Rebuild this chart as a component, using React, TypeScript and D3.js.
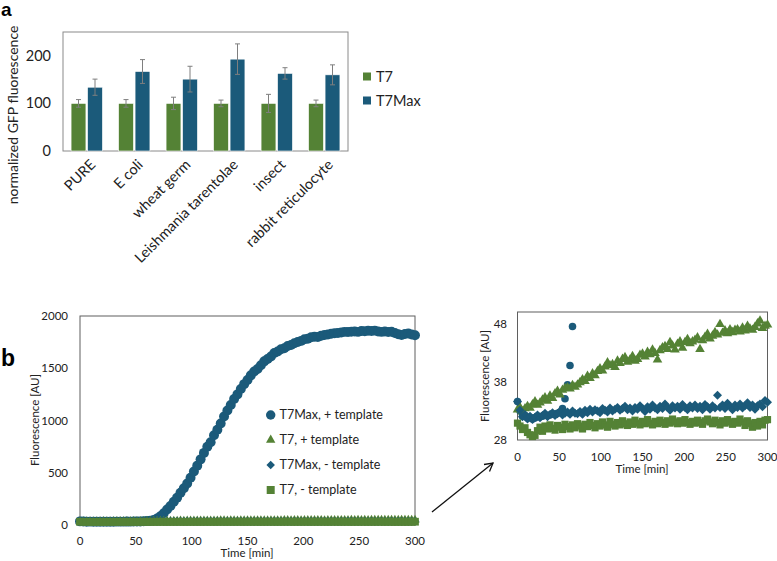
import React from "react";
import * as d3 from "d3";

// ---- panel a : normalized GFP fluorescence per lysate ----
const categories = ["PURE", "E coli", "wheat germ", "Leishmania tarentolae", "insect", "rabbit reticulocyte"];
const barSeries = ["T7", "T7Max"];
const t7Values = [100, 100, 100, 100, 100, 100];
const t7Errors = [8, 8, 13, 7, 19, 7];
const t7maxValues = [134, 167, 151, 193, 163, 160];
const t7maxErrors = [17, 25, 27, 32, 12, 21];
const barTicks = [0, 100, 200];

// ---- panel b : fluorescence over time ----
const times = [
  0, 3, 6, 9, 12, 15, 18, 21, 24, 27, 30, 33, 36, 39, 42, 45, 48, 51, 54, 57,
  60, 63, 66, 69, 72, 75, 78, 81, 84, 87, 90, 93, 96, 99, 102, 105, 108, 111, 114, 117,
  120, 123, 126, 129, 132, 135, 138, 141, 144, 147, 150, 153, 156, 159, 162, 165, 168, 171, 174, 177,
  180, 183, 186, 189, 192, 195, 198, 201, 204, 207, 210, 213, 216, 219, 222, 225, 228, 231, 234, 237,
  240, 243, 246, 249, 252, 255, 258, 261, 264, 267, 270, 273, 276, 279, 282, 285, 288, 291, 294, 297,
  300,
];
const t7maxPlus = [
  34.6, 33.0, 32.1, 32.2, 31.8, 31.9, 31.6, 31.8, 32.1, 32.0,
  32.1, 32.3, 32.2, 32.3, 32.5, 32.4, 32.6, 32.8, 33.4, 35.1,
  37.5, 40.8, 47.5, 62, 84, 112, 148, 182, 223, 262,
  308, 352, 398, 452, 512, 568, 628, 690, 748, 792,
  858, 912, 972, 1038, 1095, 1148, 1205, 1250, 1302, 1348,
  1388, 1432, 1468, 1492, 1528, 1566, 1588, 1612, 1645, 1660,
  1682, 1692, 1712, 1722, 1740, 1752, 1762, 1778, 1782, 1796,
  1802, 1800, 1812, 1818, 1822, 1830, 1834, 1838, 1842, 1848,
  1846, 1850, 1852, 1848, 1856, 1855, 1858, 1856, 1860, 1852,
  1848, 1852, 1846, 1850, 1838, 1826, 1818, 1828, 1832, 1822,
  1815,
];
const t7Plus = [
  33.2, 33.6, 32.9, 33.4, 33.8, 33.5, 34.1, 34.6, 34.0, 34.4,
  34.9, 35.3, 34.7, 35.6, 35.2, 36.0, 36.4, 35.8, 36.6, 36.9,
  37.0, 36.8, 37.4, 37.1, 37.5, 37.9, 38.4, 38.1, 39.0, 38.6,
  39.4, 39.1, 39.8, 40.3, 39.9, 40.6, 41.3, 40.8, 41.0, 40.5,
  41.6, 41.2, 41.9, 42.2, 41.4, 41.8, 42.4, 41.6, 41.9, 42.6,
  42.8, 42.3, 43.1, 42.7, 43.5, 42.9, 41.8, 43.4, 43.9, 44.1,
  43.6, 44.8, 44.2, 43.5, 44.5, 44.9, 43.8, 44.8, 45.3, 44.6,
  44.9, 45.2, 45.6, 43.6, 45.1, 45.7, 46.2, 45.4, 45.9, 46.5,
  46.1, 47.9, 46.4, 46.8, 46.3, 47.0, 46.5, 46.9, 47.0, 46.6,
  47.3, 46.8, 47.6, 47.1, 46.9, 47.4, 48.0, 48.5, 47.2, 47.6,
  47.8,
];
const t7maxMinus = [
  34.6, 33.1, 32.0, 32.4, 31.6, 32.1, 31.5, 31.9, 32.3, 31.8,
  32.2, 32.6, 32.0, 32.4, 32.7, 32.2, 32.5, 32.9, 32.3, 32.6,
  32.8, 32.4, 33.0, 32.6, 32.5, 32.9, 32.4, 33.1, 32.7, 33.3,
  32.8, 33.2, 33.0, 32.7, 33.4, 33.1, 32.8, 33.5, 33.0, 33.3,
  33.6, 33.1, 33.4, 33.8, 33.2, 33.5, 33.0, 33.6, 33.3, 33.9,
  33.4, 32.9, 33.7, 33.3, 34.0, 33.5, 33.2, 33.8, 33.4, 34.2,
  33.6, 33.1, 33.9, 33.5, 33.8, 33.3, 34.1, 33.6, 33.2, 33.9,
  33.5, 34.0, 33.4, 33.8, 33.2, 34.1, 33.7, 33.3, 33.9, 33.5,
  35.7, 33.6, 34.0, 33.4, 34.3, 33.8, 33.2, 34.0, 33.6, 34.2,
  33.5, 33.9, 34.4, 33.6, 34.0, 33.3, 33.9, 34.2, 33.7, 34.8,
  34.5,
];
const t7Minus = [
  30.9, 30.4, 29.8, 30.1, 29.3, 28.9, 28.6, 28.8, 29.6, 30.2,
  29.5, 30.4, 29.9, 30.6, 30.0, 29.7, 30.5, 30.2, 29.8, 30.7,
  30.3, 29.9, 30.6, 30.1, 30.8, 30.4, 29.9, 30.7, 30.3, 31.0,
  30.5, 30.1, 30.8, 30.4, 31.1, 30.6, 30.2, 31.2, 30.7, 30.4,
  31.0, 30.6, 31.3, 30.8, 30.5, 31.1, 30.7, 31.4, 30.9, 30.6,
  31.2, 30.8, 31.5, 30.9, 30.6, 31.2, 30.8, 31.4, 31.0, 30.7,
  31.3, 30.9, 31.6, 31.1, 30.8, 31.3, 30.9, 31.5, 31.0, 30.7,
  31.2, 30.9, 31.4, 31.0, 30.7, 31.3, 31.6, 31.1, 30.8, 31.4,
  31.0, 30.6, 31.3, 30.9, 31.5, 31.1, 30.7, 31.2, 30.9, 31.6,
  31.1, 30.5, 31.3, 30.8, 30.2, 31.0, 30.4, 31.2, 30.6, 31.4,
  31.5,
];
const seriesNames = ["T7Max, + template", "T7, + template", "T7Max, - template", "T7, - template"];
const timeTicks = [0, 50, 100, 150, 200, 250, 300];
const mainYTicks = [0, 500, 1000, 1500, 2000];
const insetYTicks = [28, 38, 48];

const GREEN = "#548235";
const BLUE = "#1b5a7a";
const FONT = "Lato, 'Open Sans', sans-serif";

type Shape = "circle" | "triangle" | "diamond" | "square";

const symbolPath = (shape: Shape, size: number) => {
  const type =
    shape === "circle" ? d3.symbolCircle : shape === "triangle" ? d3.symbolTriangle : d3.symbolSquare;
  return d3.symbol().type(type).size(size)() as string;
};

const Marker = ({ shape, x, y, size, color }: { shape: Shape; x: number; y: number; size: number; color: string }) => (
  <path
    d={symbolPath(shape, size)}
    fill={color}
    transform={`translate(${x},${y})${shape === "diamond" ? " rotate(45)" : ""}`}
  />
);

const seriesDefs: { name: string; values: number[]; shape: Shape; color: string }[] = [
  { name: seriesNames[0], values: t7maxPlus, shape: "circle", color: BLUE },
  { name: seriesNames[1], values: t7Plus, shape: "triangle", color: GREEN },
  { name: seriesNames[2], values: t7maxMinus, shape: "diamond", color: BLUE },
  { name: seriesNames[3], values: t7Minus, shape: "square", color: GREEN },
];

const BarPanel = () => {
  const x0 = d3.scaleBand<string>().domain(categories).range([63, 348]).paddingInner(0.34).paddingOuter(0.17);
  const x1 = d3.scaleBand<string>().domain(barSeries).range([0, x0.bandwidth()]).paddingInner(0.1);
  const y = d3.scaleLinear().domain([0, 250]).range([151, 32]);
  const groups = [
    { key: "T7", values: t7Values, errors: t7Errors, color: GREEN },
    { key: "T7Max", values: t7maxValues, errors: t7maxErrors, color: BLUE },
  ];
  return (
    <g fontFamily={FONT}>
      <text x={1} y={16} fontSize={19} fontWeight="bold" fontFamily="Arial, 'Liberation Sans', sans-serif">a</text>
      <rect x={63} y={32} width={285} height={119} fill="none" stroke="#8a8a8a" strokeWidth={1} />
      {barTicks.map((t) => (
        <text key={t} x={51} y={y(t)} dy="0.35em" textAnchor="end" fontSize={14.5} fill="#222">{t}</text>
      ))}
      <text transform={`translate(13,115) rotate(-90)`} textAnchor="middle" dy="0.35em" fontSize={14} fill="#222">
        normalized GFP fluorescence
      </text>
      {groups.map((g) =>
        categories.map((c, i) => {
          const bx = (x0(c) as number) + (x1(g.key) as number);
          const bw = x1.bandwidth();
          const cx = bx + bw / 2;
          return (
            <g key={g.key + c}>
              <rect x={bx} y={y(g.values[i])} width={bw} height={y(0) - y(g.values[i])} fill={g.color} stroke="#fff" strokeWidth={0.6} />
              <line x1={cx} x2={cx} y1={y(g.values[i] - g.errors[i])} y2={y(g.values[i] + g.errors[i])} stroke="#7f7f7f" strokeWidth={1} />
              <line x1={cx - 2.5} x2={cx + 2.5} y1={y(g.values[i] + g.errors[i])} y2={y(g.values[i] + g.errors[i])} stroke="#7f7f7f" strokeWidth={1} />
              <line x1={cx - 2.5} x2={cx + 2.5} y1={y(g.values[i] - g.errors[i])} y2={y(g.values[i] - g.errors[i])} stroke="#7f7f7f" strokeWidth={1} />
            </g>
          );
        })
      )}
      {categories.map((c) => {
        const cx = (x0(c) as number) + x0.bandwidth() / 2;
        return (
          <text key={c} transform={`translate(${cx + 6},${162}) rotate(-45)`} textAnchor="end" dy="0.35em" fontSize={14.5} fill="#222">
            {c}
          </text>
        );
      })}
      {groups.map((g, i) => (
        <g key={g.key}>
          <rect x={363} y={72.5 + i * 24} width={8} height={8} fill={g.color} />
          <text x={376} y={76.5 + i * 24} dy="0.35em" fontSize={14.5} fill="#222">{g.key}</text>
        </g>
      ))}
    </g>
  );
};

const MainTimePanel = () => {
  const x = d3.scaleLinear().domain([0, 300]).range([80, 415]);
  const y = d3.scaleLinear().domain([0, 2000]).range([525, 316]);
  const sizes: Record<Shape, number> = { circle: 78, triangle: 36, diamond: 40, square: 60 };
  const legendSizes: Record<Shape, number> = { circle: 70, triangle: 38, diamond: 36, square: 64 };
  return (
    <g fontFamily={FONT}>
      <text x={1} y={366} fontSize={23} fontWeight="bold" fontFamily="Arial, 'Liberation Sans', sans-serif">b</text>
      <rect x={80} y={316} width={335} height={209} fill="none" stroke="#5f5f5f" strokeWidth={1} />
      {mainYTicks.map((t) => (
        <text key={t} x={68} y={y(t)} dy="0.35em" textAnchor="end" fontSize={11.5} fill="#222">{t}</text>
      ))}
      {timeTicks.map((t) => (
        <text key={t} x={x(t)} y={541} dy="0.35em" textAnchor="middle" fontSize={11.5} fill="#222">{t}</text>
      ))}
      <text x={247} y={553} dy="0.35em" textAnchor="middle" fontSize={11.5} fill="#222">Time [min]</text>
      <text transform={`translate(35,${420}) rotate(-90)`} textAnchor="middle" dy="0.35em" fontSize={11.5} fill="#222">
        Fluorescence [AU]
      </text>
      {seriesDefs.map((s) => (
        <g key={s.name}>
          {s.values.map((v, i) => (
            <Marker key={i} shape={s.shape} x={x(times[i])} y={y(v)} size={sizes[s.shape]} color={s.color} />
          ))}
        </g>
      ))}
      {seriesDefs.map((s, i) => (
        <g key={s.name}>
          <Marker shape={s.shape} x={270.7} y={415 + i * 25} size={legendSizes[s.shape]} color={s.color} />
          <text x={279.5} y={415 + i * 25} dy="0.35em" fontSize={12.5} fill="#222">{s.name}</text>
        </g>
      ))}
    </g>
  );
};

const InsetPanel = () => {
  const x = d3.scaleLinear().domain([0, 300]).range([517.5, 767.5]);
  const y = d3.scaleLinear().domain([28, 50]).range([440, 312]);
  const sizes: Record<Shape, number> = { circle: 45, triangle: 40, diamond: 40, square: 52 };
  return (
    <g fontFamily={FONT}>
      <rect x={517.5} y={312} width={250} height={128} fill="none" stroke="#5f5f5f" strokeWidth={1} />
      {insetYTicks.map((t) => (
        <text key={t} x={507} y={y(t)} dy="0.35em" textAnchor="end" fontSize={11.5} fill="#222">{t}</text>
      ))}
      {timeTicks.map((t) => (
        <text key={t} x={x(t)} y={457} dy="0.35em" textAnchor="middle" fontSize={11.5} fill="#222">{t}</text>
      ))}
      <text x={642} y={468.5} dy="0.35em" textAnchor="middle" fontSize={11.5} fill="#222">Time [min]</text>
      <text transform={`translate(485,${376}) rotate(-90)`} textAnchor="middle" dy="0.35em" fontSize={11.5} fill="#222">
        Fluorescence [AU]
      </text>
      {seriesDefs.map((s) => (
        <g key={s.name}>
          {s.values.map((v, i) =>
            v <= 50 ? <Marker key={i} shape={s.shape} x={x(times[i])} y={y(v)} size={sizes[s.shape]} color={s.color} /> : null
          )}
        </g>
      ))}
    </g>
  );
};

const Arrow = () => (
  <g stroke="#111" strokeWidth={1.3} fill="none">
    <line x1={432} y1={512} x2={493} y2={463} />
    <polyline points="484,464.5 493,463 489.5,471.5" />
  </g>
);

const App = () => (
  <svg width={777} height={561} style={{ position: "absolute", left: 0, top: 0, background: "#fff" }}>
    <BarPanel />
    <MainTimePanel />
    <InsetPanel />
    <Arrow />
  </svg>
);

export default App;
